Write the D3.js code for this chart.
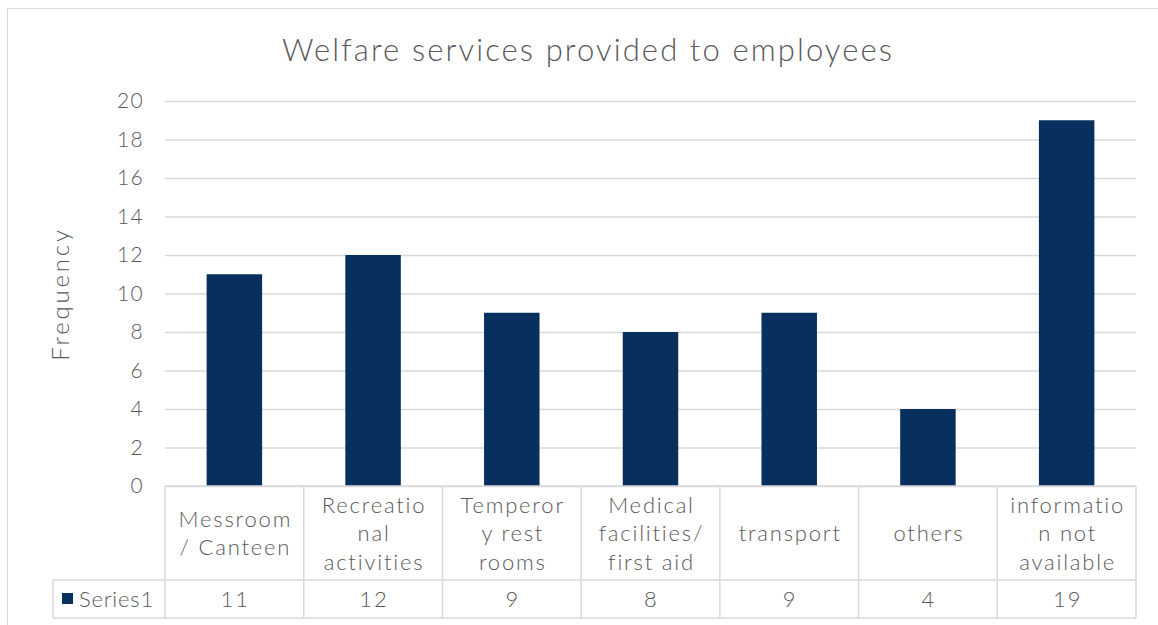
<!DOCTYPE html>
<html><head><meta charset="utf-8">
<script src="https://cdn.jsdelivr.net/npm/d3@7"></script>
<style>body{margin:0;background:#fff}svg{display:block}text{font-family:"Lato","DejaVu Sans",sans-serif;fill:#595959;font-weight:300}</style>
</head><body><svg id="c" width="1158" height="625"></svg>
<script>
const categories = [["Messroom","/ Canteen"],["Recreatio","nal","activities"],["Temperor","y rest","rooms"],["Medical","facilities/","first aid"],["transport"],["others"],["informatio","n not","available"]];
const values = [11,12,9,8,9,4,19];
const yTicks = [0,2,4,6,8,10,12,14,16,18,20];
const seriesName = "Series1";
const title = "Welfare services provided to employees";
const yTitle = "Frequency";

(function(){
const svg = d3.select("#c");
const pL=165, pR=1136, pT=101, pB=486;
const x = d3.scaleBand().domain(d3.range(categories.length)).range([pL,pR]).paddingInner(0.6).paddingOuter(0.3);
const xc = d3.scaleBand().domain(d3.range(categories.length)).range([pL,pR]);
const y = d3.scaleLinear().domain([0,20]).range([pB,pT]);
const grid="#d9d9d9";

svg.append("rect").attr("x",7.5).attr("y",8.5).attr("width",1160).attr("height",640).attr("fill","none").attr("stroke",grid);

svg.append("text").attr("x",588).attr("y",61).attr("text-anchor","middle").attr("font-size",31).attr("letter-spacing",2.1).text(title);

const ya = svg.append("g").attr("transform",`translate(${pL},0)`)
  .call(d3.axisLeft(y).tickValues(yTicks).tickSize(-(pR-pL)).tickPadding(21));
ya.select(".domain").remove();
ya.selectAll(".tick line").attr("stroke",grid).attr("stroke-width",1.3);
ya.selectAll(".tick text").attr("font-size",21).attr("letter-spacing",1.3).attr("fill","#595959").attr("font-family","Lato,'DejaVu Sans',sans-serif");

svg.append("text").attr("transform","translate(69,294) rotate(-90)").attr("text-anchor","middle").attr("font-size",24).attr("letter-spacing",2.8).text(yTitle);

svg.append("g").selectAll("rect").data(values).join("rect")
  .attr("x",(d,i)=>x(i)).attr("width",x.bandwidth())
  .attr("y",d=>y(d)).attr("height",d=>y(0)-y(d)).attr("fill","#08305e");

const rowTop=pB, rowMid=580, rowBot=618, legLeft=53;
const tg = svg.append("g").attr("stroke",grid).attr("stroke-width",1.5).attr("fill","none");
tg.append("line").attr("x1",pL).attr("x2",pR).attr("y1",rowTop).attr("y2",rowTop);
tg.append("line").attr("x1",legLeft).attr("x2",pR).attr("y1",rowMid).attr("y2",rowMid);
tg.append("line").attr("x1",legLeft).attr("x2",pR).attr("y1",rowBot).attr("y2",rowBot);
tg.append("line").attr("x1",legLeft).attr("x2",legLeft).attr("y1",rowMid).attr("y2",rowBot);
d3.range(categories.length+1).forEach(i=>{
  const xx = i<categories.length ? xc(i) : pR;
  tg.append("line").attr("x1",xx).attr("x2",xx).attr("y1",rowTop).attr("y2",rowBot);
});

const lh=28.5;
categories.forEach((lines,i)=>{
  const cx = xc(i)+xc.bandwidth()/2 + 1;
  const cy = (rowTop+rowMid)/2;
  const t = svg.append("text").attr("text-anchor","middle").attr("font-size",22).attr("letter-spacing",1.8);
  lines.forEach((l,j)=>{
    t.append("tspan").attr("x",cx).attr("y",cy + (j-(lines.length-1)/2)*lh + 8).text(l);
  });
  svg.append("text").attr("x",cx).attr("y",(rowMid+rowBot)/2+8).attr("text-anchor","middle").attr("font-size",22).attr("letter-spacing",2).text(values[i]);
});
svg.append("rect").attr("x",62).attr("y",593).attr("width",11).attr("height",11).attr("fill","#08305e");
svg.append("text").attr("x",79).attr("y",(rowMid+rowBot)/2+8).attr("font-size",22).attr("letter-spacing",0.8).text(seriesName);
})();
</script></body></html>
